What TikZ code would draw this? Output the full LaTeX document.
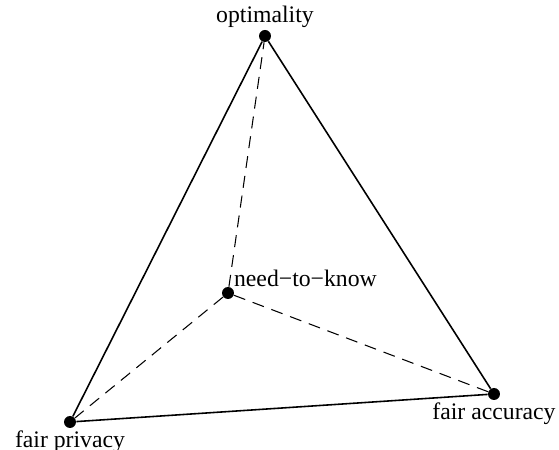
\documentclass[tikz,border=0pt]{standalone}
\usepackage{fontspec}
\setmainfont{Liberation Serif}
\usepackage{tikz}
\usetikzlibrary{positioning}
\tikzset{
  sommet/.style={circle,fill=black,inner sep=0pt,minimum size=0.24cm},
  etiq/.style={font=\fontsize{13.5}{16}\selectfont,inner sep=1pt},
  arete/.style={line width=0.9pt},
  cachee/.style={line width=0.6pt,dash pattern=on 0.24cm off 0.16cm},
}
\begin{document}
\begin{tikzpicture}[x=0.02cm,y=0.02cm]
  \useasboundingbox (0,0) rectangle (559,450);
  \node[sommet] (opt) at (265,414) {};
  \node[sommet] (ntk) at (228,157) {};
  \node[sommet] (fp) at (70,28) {};
  \node[sommet] (fa) at (494,56) {};
  \foreach \u/\v in {opt/fa,fa/fp,fp/opt} \draw[arete] (\u)--(\v);
  \foreach \u in {opt,fp,fa} \draw[cachee] (ntk)--(\u);
  \node[etiq,above=0pt of opt] (optl) {optimality};
  \node[etiq,anchor=base west] (ntkl) at ([shift={(4,6)}]ntk.center) {need−to−know};
  \node[etiq,below=0pt of fa] (fal) {fair accuracy};
  \node[etiq,below=0pt of fp] (fpl) {fair privacy};
\end{tikzpicture}
\end{document}
